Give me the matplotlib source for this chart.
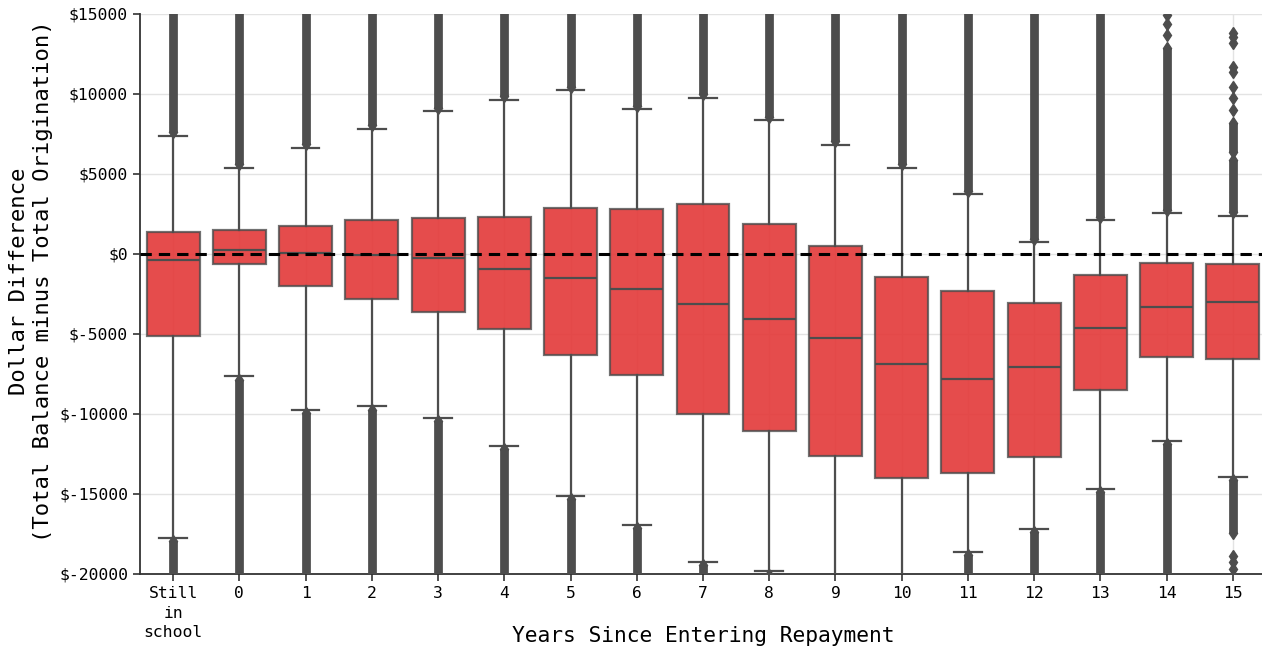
import matplotlib
matplotlib.use("Agg")
import matplotlib.pyplot as plt
from matplotlib.ticker import FuncFormatter

# categories
groups = ["Still\nin\nschool", "0", "1", "2", "3", "4", "5", "6", "7",
          "8", "9", "10", "11", "12", "13", "14", "15"]

# box stats (dollars)
q1 = [-5125, -625, -2000, -2790, -3625, -4710, -6310, -7580, -10000,
      -11060, -12600, -14020, -13670, -12690, -8520, -6420, -6580]
med = [-375, 250, 60, -40, -270, -920, -1500, -2210, -3150,
       -4040, -5250, -6880, -7830, -7060, -4620, -3330, -3020]
q3 = [1375, 1500, 1750, 2100, 2250, 2290, 2900, 2790, 3150,
      1880, 500, -1440, -2310, -3040, -1310, -580, -650]
whis_lo = [-17750, -7620, -9750, -9520, -10270, -12000, -15100, -16960, -19270,
           -19790, -21000, -21000, -18600, -17210, -14690, -11670, -13940]
whis_hi = [7375, 5375, 6625, 7810, 8940, 9600, 10230, 9040, 9770,
           8350, 6810, 5350, 3750, 770, 2100, 2560, 2400]

# runs of outliers so dense they merge into a solid column: (from, to)
dense_hi = [[(7600, 15500)], [(5600, 15500)], [(6850, 15500)], [(8050, 15500)],
            [(9150, 15500)], [(9850, 15500)], [(10450, 15500)], [(9250, 15500)],
            [(10000, 15500)], [(8550, 15500)], [(7050, 15500)], [(5600, 15500)],
            [(3950, 15500)], [(950, 15500)], [(2300, 15500)], [(2750, 12850)],
            [(2600, 5850), (6350, 8200)]]
dense_lo = [[(-20500, -17950)], [(-20500, -7850)], [(-20500, -9950)], [(-20500, -9750)],
            [(-20500, -10450)], [(-20500, -12200)], [(-20500, -15300)], [(-20500, -17150)],
            [(-20500, -19450)], [(-20500, -20050)], [], [],
            [(-20500, -18800)], [(-20500, -17400)], [(-20500, -14900)], [(-20500, -11850)],
            [(-17450, -14150)]]
# single outliers that stand apart
lone = [[], [], [], [], [], [], [], [], [], [], [], [], [], [],
        [], [13700, 14400, 14950],
        [9000, 9730, 10450, 11400, 11700, 13170, 13580, 13790,
         -18850, -19250, -19700, -20100]]

yticks = [-20000, -15000, -10000, -5000, 0, 5000, 10000, 15000]

dark = "#4d4d4d"
face = (0.89, 0.22, 0.22, 0.9)

plt.rcParams["font.family"] = ["DejaVu Sans Mono"]
fig = plt.figure(figsize=(12.62, 6.49), dpi=100)
ax = fig.add_axes([140 / 1262, 75 / 649, 1126 / 1262, 560 / 649])

stats = []
for i in range(len(groups)):
    fl = list(lone[i])
    for a, b in dense_hi[i] + dense_lo[i]:
        fl += [a, b]
    stats.append(dict(med=med[i], q1=q1[i], q3=q3[i], whislo=whis_lo[i],
                      whishi=whis_hi[i], fliers=fl))

pos = list(range(len(groups)))
ax.bxp(stats, positions=pos, widths=0.8, capwidths=0.42, patch_artist=True,
       boxprops=dict(facecolor=face, edgecolor=(0.3, 0.3, 0.3, 0.8), linewidth=1.6),
       medianprops=dict(color=dark, linewidth=1.6),
       whiskerprops=dict(color=dark, linewidth=1.6),
       capprops=dict(color=dark, linewidth=1.6),
       flierprops=dict(marker="d", markersize=6, markerfacecolor=dark,
                       markeredgecolor=dark, markeredgewidth=1, linestyle="none"),
       zorder=3)

for i in range(len(groups)):
    for a, b in dense_hi[i] + dense_lo[i]:
        ax.vlines(pos[i], a, b, color=dark, linewidth=6.3, zorder=3)

ax.axhline(0, color="black", linewidth=2.2, linestyle=(0, (3.7, 2.3)), zorder=5)

ax.set_xlim(-0.5, len(groups) - 0.5)
ax.set_ylim(-20000, 15000)
ax.set_yticks(yticks)
ax.yaxis.set_major_formatter(FuncFormatter(lambda v, p: "$%d" % v))
ax.set_xticks(pos)
ax.set_xticklabels(groups, fontsize=11.8, linespacing=1.4)
ax.tick_params(axis="y", labelsize=11.8)
ax.tick_params(colors="#333333", labelcolor="black", length=5, width=1.2)

ax.grid(True, color="#e3e3e3", linewidth=1, zorder=0)
ax.set_axisbelow(True)
for s in ["top", "right"]:
    ax.spines[s].set_visible(False)
for s in ["left", "bottom"]:
    ax.spines[s].set_color("#333333")
    ax.spines[s].set_linewidth(1.3)

ax.set_xlabel("Years Since Entering Repayment", fontsize=15.3)
ax.set_ylabel("Dollar Difference\n(Total Balance minus Total Origination)",
              fontsize=16, linespacing=1.25)
ax.xaxis.set_label_coords(0.5, -0.092)
ax.yaxis.set_label_coords(-0.077, 0.523)

fig.savefig("out.png", dpi=100)
